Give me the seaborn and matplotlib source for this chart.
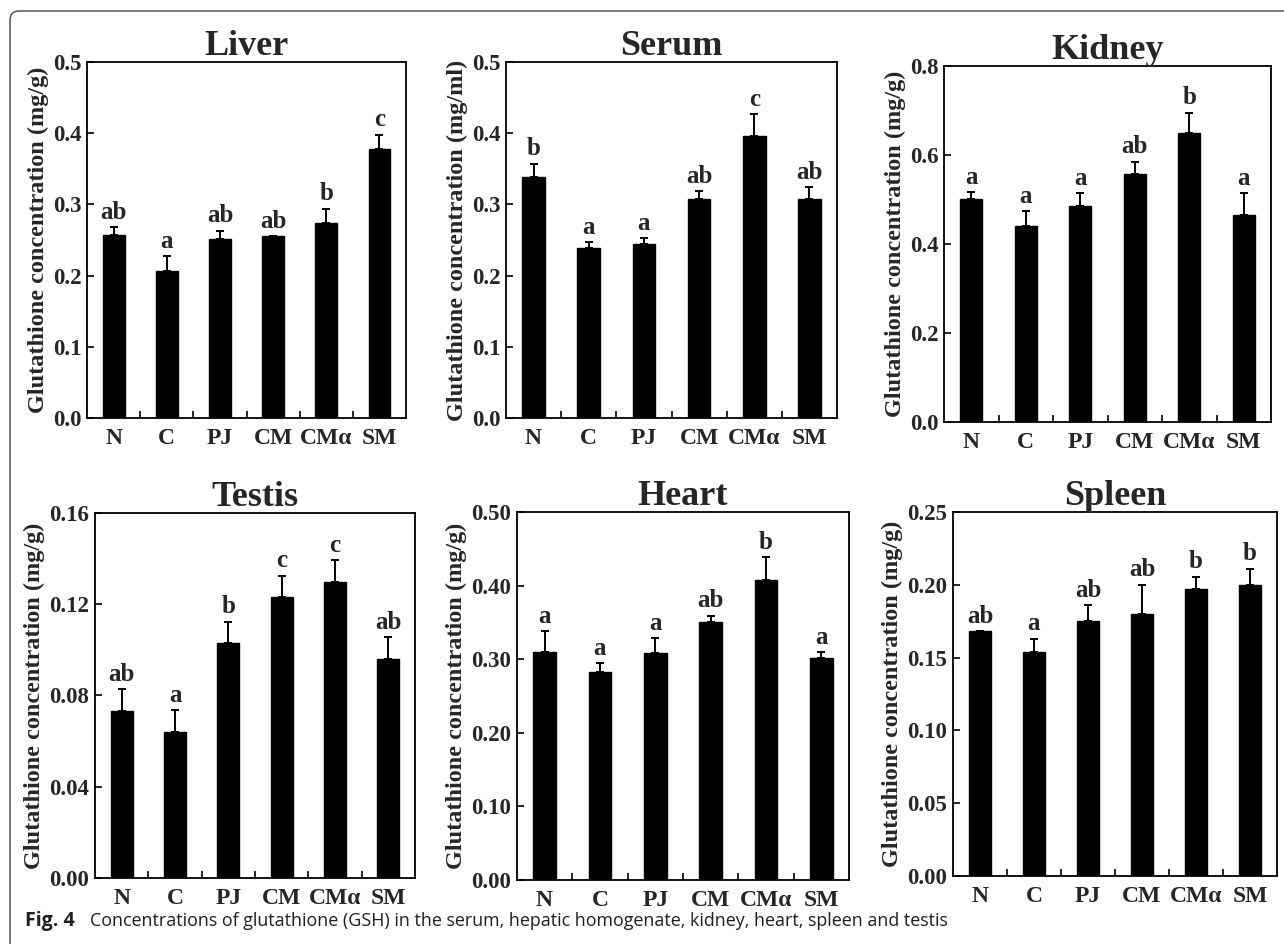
import numpy as np
import pandas as pd
import matplotlib
matplotlib.use("Agg")
import matplotlib.pyplot as plt
from matplotlib.patches import FancyBboxPatch
import seaborn as sns

################################################
#  data
################################################
groups = ["N", "C", "PJ", "CM", "CMα", "SM"]

liver_mean = [0.257, 0.207, 0.252, 0.255, 0.274, 0.378]
liver_err  = [0.011, 0.020, 0.011, 0.000, 0.020, 0.020]
liver_sig  = ["ab", "a", "ab", "ab", "b", "c"]
liver_ticks = [0.0, 0.1, 0.2, 0.3, 0.4, 0.5]

serum_mean = [0.339, 0.239, 0.244, 0.308, 0.396, 0.307]
serum_err  = [0.018, 0.008, 0.009, 0.011, 0.031, 0.017]
serum_sig  = ["b", "a", "a", "ab", "c", "ab"]
serum_ticks = [0.0, 0.1, 0.2, 0.3, 0.4, 0.5]

kidney_mean = [0.500, 0.441, 0.485, 0.558, 0.650, 0.465]
kidney_err  = [0.017, 0.032, 0.029, 0.027, 0.045, 0.049]
kidney_sig  = ["a", "a", "a", "ab", "b", "a"]
kidney_ticks = [0.0, 0.2, 0.4, 0.6, 0.8]

testis_mean = [0.073, 0.064, 0.103, 0.123, 0.1296, 0.096]
testis_err  = [0.0099, 0.0096, 0.0093, 0.0095, 0.0096, 0.0095]
testis_sig  = ["ab", "a", "b", "c", "c", "ab"]
testis_ticks = [0.00, 0.04, 0.08, 0.12, 0.16]

heart_mean = [0.310, 0.283, 0.308, 0.351, 0.407, 0.301]
heart_err  = [0.028, 0.012, 0.021, 0.008, 0.032, 0.009]
heart_sig  = ["a", "a", "a", "ab", "b", "a"]
heart_ticks = [0.00, 0.10, 0.20, 0.30, 0.40, 0.50]

spleen_mean = [0.168, 0.154, 0.175, 0.180, 0.197, 0.200]
spleen_err  = [0.000, 0.009, 0.011, 0.020, 0.0086, 0.011]
spleen_sig  = ["ab", "a", "ab", "ab", "b", "b"]
spleen_ticks = [0.00, 0.05, 0.10, 0.15, 0.20, 0.25]

################################################
#  style
################################################
sns.set_theme(style="white")
plt.rcParams["font.family"] = ["Liberation Serif", "DejaVu Serif"]
plt.rcParams["font.weight"] = "bold"

SERIF = ["Liberation Serif", "DejaVu Serif"]
SANS = ["Open Sans", "Noto Sans", "DejaVu Sans"]


def panel(fig, rect, title, ylabel, mean, err, sig, ticks, fmt):
    ax = fig.add_axes(rect)
    df = pd.DataFrame({"group": groups, "value": mean})
    sns.barplot(data=df, x="group", y="value", color="black", edgecolor="black",
                width=0.41, errorbar=None, saturation=1, ax=ax)
    pos = np.arange(len(groups))
    ax.errorbar(pos, mean, yerr=[np.zeros(len(mean)), err], fmt="none",
                ecolor="black", elinewidth=1.4, capsize=3, capthick=1.4)
    for i, (m, e, s) in enumerate(zip(mean, err, sig)):
        ax.annotate(s, (i, m + e), xytext=(0, 6), textcoords="offset points",
                    ha="center", va="baseline", fontsize=18, fontweight="bold",
                    family=SERIF)

    ax.set_xlim(-0.5, len(groups) - 0.5)
    ax.set_ylim(ticks[0], ticks[-1])
    ax.set_yticks(ticks)
    ax.set_yticklabels([fmt.format(t) for t in ticks])
    ax.set_xticks(pos)
    ax.set_xticklabels(groups)
    ax.set_xticks(pos[:-1] + 0.5, minor=True)
    ax.tick_params(axis="x", which="major", length=0, pad=7, labelsize=17)
    ax.tick_params(axis="x", which="minor", direction="in", length=5, width=1.2,
                   bottom=True, color="black")
    ax.tick_params(axis="y", direction="in", length=5, width=1.2, left=True,
                   labelsize=16.5, pad=4, color="black")
    for lab in ax.get_xticklabels() + ax.get_yticklabels():
        lab.set_fontweight("bold")
        lab.set_family(SERIF)
    for sp in ax.spines.values():
        sp.set_color("black")
        sp.set_linewidth(1.3)
        sp.set_visible(True)
    ax.set_xlabel("")
    ax.set_ylabel(ylabel, fontsize=17.5, fontweight="bold", family=SERIF, labelpad=3)
    ax.set_title(title, fontsize=26, fontweight="bold", family=SERIF, pad=5)
    return ax


fig = plt.figure(figsize=(12.84, 9.44), dpi=100)

panel(fig, [0.0678, 0.5572, 0.2484, 0.3771], "Liver",
      "Glutathione concentration (mg/g)", liver_mean, liver_err, liver_sig,
      liver_ticks, "{:.1f}")
panel(fig, [0.3941, 0.5572, 0.2578, 0.3771], "Serum",
      "Glutathione concentration (mg/ml)", serum_mean, serum_err, serum_sig,
      serum_ticks, "{:.1f}")
panel(fig, [0.7352, 0.5530, 0.2547, 0.3771], "Kidney",
      "Glutathione concentration (mg/g)", kidney_mean, kidney_err, kidney_sig,
      kidney_ticks, "{:.1f}")
panel(fig, [0.0740, 0.0699, 0.2492, 0.3867], "Testis",
      "Glutathione concentration (mg/g)", testis_mean, testis_err, testis_sig,
      testis_ticks, "{:.2f}")
panel(fig, [0.4026, 0.0678, 0.2586, 0.3898], "Heart",
      "Glutathione concentration (mg/g)", heart_mean, heart_err, heart_sig,
      heart_ticks, "{:.2f}")
panel(fig, [0.7422, 0.0720, 0.2523, 0.3856], "Spleen",
      "Glutathione concentration (mg/g)", spleen_mean, spleen_err, spleen_sig,
      spleen_ticks, "{:.2f}")

# rounded frame round the whole figure (runs off the right and bottom edge)
frame = FancyBboxPatch((0.10, -0.2), 13.0, 9.53,
                       boxstyle="round,pad=0,rounding_size=0.09",
                       transform=fig.dpi_scale_trans, fill=False,
                       edgecolor="#555555", linewidth=1.1)
fig.add_artist(frame)

# caption
fig.text(25 / 1284, 1 - 926 / 944, "Fig. 4", fontsize=14, fontweight="bold",
         family=SANS, color="#231f20", va="baseline")
fig.text(90 / 1284, 1 - 926 / 944,
         "Concentrations of glutathione (GSH) in the serum, hepatic homogenate, "
         "kidney, heart, spleen and testis",
         fontsize=12.9, fontweight="normal", family=SANS,
         color="#231f20", va="baseline")

fig.savefig("out.png", dpi=100, facecolor="white")
